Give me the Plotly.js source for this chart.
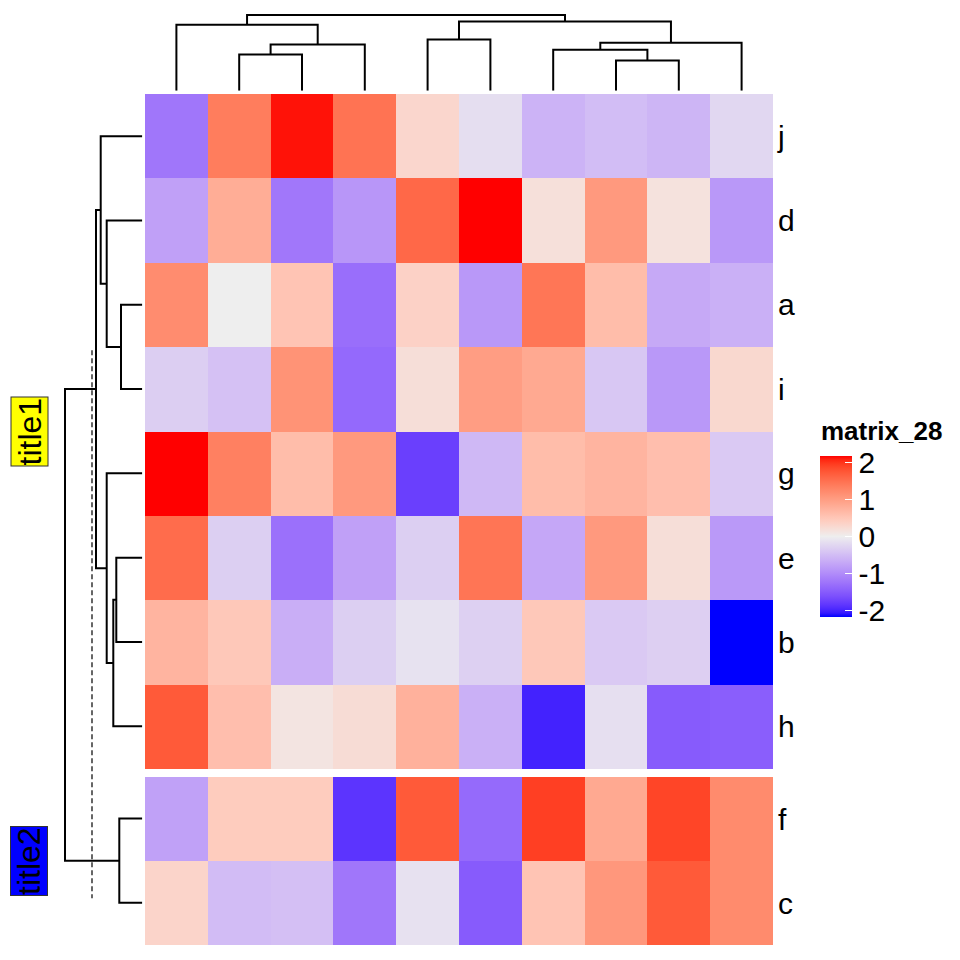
<!DOCTYPE html>
<html>
<head>
<meta charset="utf-8">
<script src="https://cdn.plot.ly/plotly-3.0.1.min.js"></script>
<style>html,body{margin:0;padding:0;background:#fff;}#chart{width:960px;height:960px;}</style>
</head>
<body>
<div id="chart"></div>
<script>
// ---------------- data ----------------
const rowsTop = ["j", "d", "a", "i", "g", "e", "b", "h"];
const rowsBottom = ["f", "c"];
const rowJ = [-1.22, 1.37, 2.12, 1.47, 0.30, -0.16, -0.60, -0.49, -0.57, -0.23];
const rowD = [-0.79, 0.81, -1.21, -0.90, 1.58, 2.20, 0.18, 1.05, 0.15, -0.88];
const rowA = [1.19, 0.00, 0.53, -1.30, 0.36, -0.88, 1.44, 0.62, -0.70, -0.63];
const rowI = [-0.33, -0.45, 1.12, -1.36, 0.20, 1.00, 0.86, -0.39, -0.88, 0.28];
const rowG = [2.20, 1.33, 0.62, 1.05, -1.76, -0.54, 0.62, 0.72, 0.60, -0.37];
const rowE = [1.54, -0.32, -1.28, -0.79, -0.32, 1.45, -0.72, 1.05, 0.20, -0.87];
const rowB = [0.72, 0.48, -0.65, -0.32, -0.12, -0.30, 0.48, -0.37, -0.31, -2.25];
const rowH = [1.72, 0.60, 0.12, 0.23, 0.76, -0.63, -2.00, -0.15, -1.50, -1.47];
const rowF = [-0.78, 0.43, 0.43, -1.86, 1.72, -1.35, 1.93, 0.86, 1.89, 1.21];
const rowC = [0.33, -0.50, -0.47, -1.22, -0.13, -1.50, 0.53, 1.07, 1.72, 1.21];

const legendTitle = "matrix_28";
const legendTicks = [-2, -1, 0, 1, 2];
const colorBreak = 2.17;            // |value| mapped to full blue / red
const rowTitles = ["title1", "title2"];
const rowTitleFills = ["yellow", "blue"];

// column dendrogram: merges [left, right, height]; values <= 0 = leaf index (display order, negated), positive = merge id (1-based)
const colMerge = [
  [-1, -2, 36.3],  // 1
  [1, -3, 46.3],   // 2
  [-0, 2, 66.0],   // 3  (leaf 0)
  [-4, -5, 51.3],  // 4
  [-7, -8, 30.3],  // 5
  [-6, 5, 41.0],   // 6
  [6, -9, 48.0],   // 7
  [4, 7, 69.3],    // 8
  [3, 8, 75.7]     // 9
];
// row dendrogram (display order j,d,a,i,g,e,b,h,f,c = 0..9)
const rowMerge = [
  [-2, -3, 21.3],  // 1
  [-1, 1, 35.6],   // 2
  [-0, 2, 41.6],   // 3
  [-5, -6, 26.0],  // 4
  [4, -7, 29.0],   // 5
  [-4, 5, 35.6],   // 6
  [3, 6, 46.3],    // 7
  [-8, -9, 23.0],  // 8
  [7, 8, 77.3]     // 9
];
const cutHeight = 50.3;
const cutSpan = [3.04, 9.54];

// ---------------- helpers ----------------
const W = 960, H = 960;
const px = v => v / W;
const py = v => 1 - v / H;

function toLin(c){c/=255;return c<=0.04045?c/12.92:Math.pow((c+0.055)/1.055,2.4);}
function toS(c){c=Math.max(0,Math.min(1,c));return c<=0.0031308?12.92*c:1.055*Math.pow(c,1/2.4)-0.055;}
const Xn=0.95047,Yn=1,Zn=1.08883;
function f(t){return t>0.008856?Math.cbrt(t):7.787*t+16/116;}
function fi(t){return t>0.206893?t*t*t:(t-16/116)/7.787;}
function rgb2lab(r,g,b){
  const R=toLin(r),G=toLin(g),B=toLin(b);
  const X=(0.4124*R+0.3576*G+0.1805*B)/Xn, Y=(0.2126*R+0.7152*G+0.0722*B)/Yn, Z=(0.0193*R+0.1192*G+0.9505*B)/Zn;
  const fx=f(X),fy=f(Y),fz=f(Z);
  return [116*fy-16,500*(fx-fy),200*(fy-fz)];
}
function lab2rgb(L,a,b){
  const fy=(L+16)/116, fx=fy+a/500, fz=fy-b/200;
  const X=fi(fx)*Xn, Y=fi(fy)*Yn, Z=fi(fz)*Zn;
  const R=3.2406*X-1.5372*Y-0.4986*Z, G=-0.9689*X+1.8758*Y+0.0415*Z, B=0.0557*X-0.2040*Y+1.0570*Z;
  return 'rgb('+[R,G,B].map(c=>Math.round(toS(c)*255)).join(',')+')';
}
const labBlue=rgb2lab(0,0,255), labMid=rgb2lab(238,238,238), labRed=rgb2lab(255,0,0);
const colorscale=[];
const N=40;
for(let k=0;k<=N;k++){
  const s=k/N; let c;
  if(s<=0.5){const t=s/0.5; c=labBlue.map((v,i)=>v+(labMid[i]-v)*t);}
  else {const t=(s-0.5)/0.5; c=labMid.map((v,i)=>v+(labRed[i]-v)*t);}
  colorscale.push([s, lab2rgb(c[0],c[1],c[2])]);
}

// dendrogram segments
function dendro(merges, leafPos, horizontal){
  const pos={}, hgt={};
  const get=(id)=> id<=0 ? [leafPos[-id],0] : [pos[id],hgt[id]];
  const xs=[], ys=[];
  merges.forEach((m,i)=>{
    const id=i+1;
    const [p1,h1]=get(m[0]); const [p2,h2]=get(m[1]); const h=m[2];
    pos[id]=(p1+p2)/2; hgt[id]=h;
    const pts=[[p1,h1],[p1,h],[p2,h],[p2,h2]];
    pts.forEach(([p,hh])=>{ if(horizontal){xs.push(hh);ys.push(p);} else {xs.push(p);ys.push(hh);} });
    xs.push(null); ys.push(null);
  });
  return {xs,ys};
}

// geometry (pixels)
const hmLeft=145, hmRight=773, topY0=94, topY1=769, botY0=777, botY1=945;
const rowUnit=(topY1-topY0)/rowsTop.length;
const gap=(botY0-topY1)/rowUnit;

const colLeaf=[0,1,2,3,4,5,6,7,8,9];
const rowLeaf=[];
rowsTop.forEach((r,i)=>rowLeaf.push(i+0.5));
rowsBottom.forEach((r,i)=>rowLeaf.push(rowsTop.length+gap+i+0.5));

const cd=dendro(colMerge,colLeaf,false);
const rd=dendro(rowMerge,rowLeaf,true);

const zTop=[rowJ,rowD,rowA,rowI,rowG,rowE,rowB,rowH];
const zBot=[rowF,rowC];

const font="Liberation Sans, Arial, Helvetica, sans-serif";

const traces=[
  {type:'heatmap', z:zTop, x:colLeaf, y:rowsTop.map((r,i)=>i), coloraxis:'coloraxis', xaxis:'x', yaxis:'y', xgap:0, ygap:0, hoverinfo:'skip'},
  {type:'heatmap', z:zBot, x:colLeaf, y:rowsBottom.map((r,i)=>i), coloraxis:'coloraxis', xaxis:'x2', yaxis:'y2', hoverinfo:'skip'},
  {type:'scatter', mode:'lines', x:cd.xs, y:cd.ys, xaxis:'x3', yaxis:'y3', line:{color:'#000', width:2}, connectgaps:false, showlegend:false, hoverinfo:'skip'},
  {type:'scatter', mode:'lines', x:rd.xs, y:rd.ys, xaxis:'x4', yaxis:'y4', line:{color:'#000', width:2}, connectgaps:false, showlegend:false, hoverinfo:'skip'}
];

const hidden={visible:false, showgrid:false, zeroline:false};
const cbLen=161, cbCenter=536.5, cbLeft=820, cbThick=32;

const shapes=[
  {type:'line', xref:'x4', yref:'y4', x0:cutHeight, x1:cutHeight, y0:cutSpan[0], y1:cutSpan[1], line:{color:'#555', width:1.8, dash:'5px,3px'}}
];
legendTicks.forEach(v=>{
  const yy=cbCenter - (v/colorBreak)*(cbLen/2);
  shapes.push({type:'line', xref:'paper', yref:'paper', x0:px(cbLeft), x1:px(cbLeft+7), y0:py(yy), y1:py(yy), line:{color:'#fff', width:1.6}});
});

const labelFont={size:30, family:font, color:'#000'};

const layout={
  width:W, height:H, margin:{l:0,r:0,t:0,b:0}, paper_bgcolor:'#fff', plot_bgcolor:'rgba(0,0,0,0)',
  font:{family:font, color:'#000'},
  showlegend:false,
  xaxis:Object.assign({domain:[px(hmLeft),px(hmRight)], range:[-0.5,9.5], anchor:'y'},hidden),
  yaxis:{domain:[py(topY1),py(topY0)], range:[rowsTop.length-0.5,-0.5], anchor:'x', side:'right',
         tickmode:'array', tickvals:rowsTop.map((r,i)=>i), ticktext:rowsTop, ticks:'', showgrid:false, zeroline:false,
         showline:false, tickfont:labelFont, ticklabelstandoff:4},
  xaxis2:Object.assign({domain:[px(hmLeft),px(hmRight)], range:[-0.5,9.5], anchor:'y2'},hidden),
  yaxis2:{domain:[py(botY1),py(botY0)], range:[rowsBottom.length-0.5,-0.5], anchor:'x2', side:'right',
         tickmode:'array', tickvals:rowsBottom.map((r,i)=>i), ticktext:rowsBottom, ticks:'', showgrid:false, zeroline:false,
         showline:false, tickfont:labelFont, ticklabelstandoff:4},
  xaxis3:Object.assign({domain:[px(hmLeft),px(hmRight)], range:[-0.5,9.5], anchor:'y3'},hidden),
  yaxis3:Object.assign({domain:[py(90.7),py(10.7)], range:[0,80], anchor:'x3'},hidden),
  xaxis4:Object.assign({domain:[px(142.3-80),px(142.3)], range:[80,0], anchor:'y4'},hidden),
  yaxis4:Object.assign({domain:[py(botY1),py(topY0)], range:[rowsTop.length+gap+rowsBottom.length,0], anchor:'x4'},hidden),
  coloraxis:{colorscale:colorscale, cmin:-colorBreak, cmax:colorBreak,
    colorbar:{x:px(cbLeft), xanchor:'left', xref:'paper', y:py(cbCenter), yanchor:'middle', yref:'paper',
      len:cbLen, lenmode:'pixels', thickness:cbThick, thicknessmode:'pixels', xpad:0, ypad:0,
      outlinewidth:0, tickmode:'array', tickvals:legendTicks, ticktext:legendTicks.map(String),
      ticks:'inside', ticklen:7, tickwidth:1.6, tickcolor:'#fff',
      tickfont:labelFont}},
  shapes:shapes,
  annotations:[
    {text:legendTitle, xref:'paper', yref:'paper', x:px(cbLeft-1), y:py(431), xanchor:'left', yanchor:'middle',
     showarrow:false, font:{size:26, family:font, weight:'bold', color:'#000'}},
    {text:rowTitles[0], xref:'paper', yref:'paper', x:px(29), y:py((topY0+topY1)/2), xanchor:'center', yanchor:'middle',
     textangle:-90, showarrow:false, bgcolor:rowTitleFills[0], bordercolor:'#333', borderwidth:1, borderpad:0,
     font:{size:32, family:font, color:'#000'}},
    {text:rowTitles[1], xref:'paper', yref:'paper', x:px(29), y:py((botY0+botY1)/2), xanchor:'center', yanchor:'middle',
     textangle:-90, showarrow:false, bgcolor:rowTitleFills[1], bordercolor:'#333', borderwidth:1, borderpad:0,
     font:{size:32, family:font, color:'#000'}}
  ]
};

Plotly.newPlot('chart', traces, layout, {staticPlot:true, displayModeBar:false});
</script>
</body>
</html>
